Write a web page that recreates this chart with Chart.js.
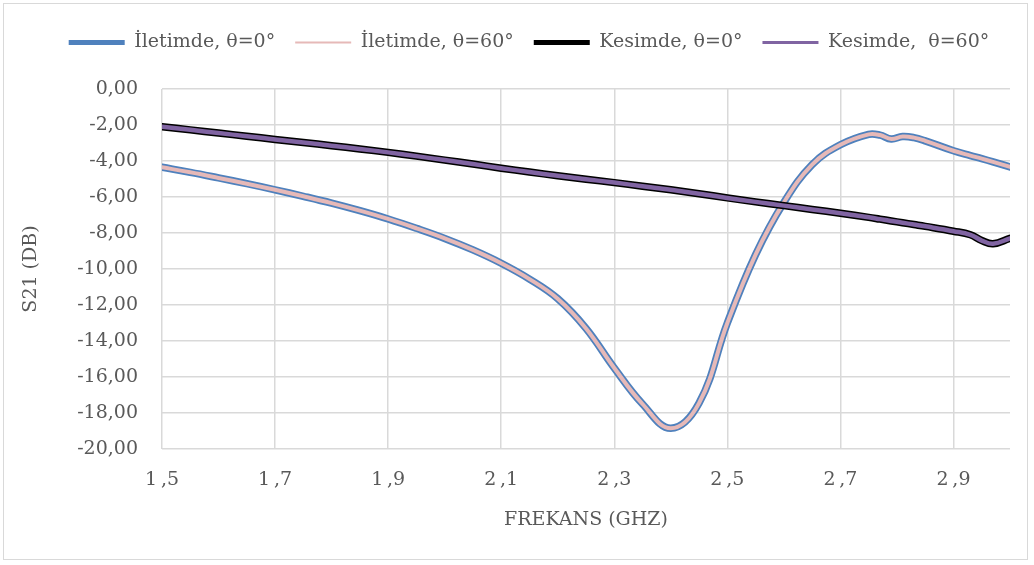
<!DOCTYPE html>
<html>
<head>
<meta charset="utf-8">
<script src="https://cdn.jsdelivr.net/npm/chart.js@4"></script>
<style>
  html, body { margin: 0; padding: 0; background: #fff; }
  #frame {
    position: absolute; left: 3px; top: 3px;
    width: 1025px; height: 557px;
    box-sizing: border-box; border: 1px solid #d9d9d9;
  }
  canvas { display: block; }
</style>
</head>
<body>
<div id="frame"><canvas id="s21Chart" width="1023" height="555"></canvas></div>
<script>
// frequency points (GHz)
const frequencies = [1.5, 1.55, 1.6, 1.65, 1.7, 1.75, 1.8, 1.85, 1.9, 1.95, 2.0, 2.05, 2.1, 2.15, 2.2,
    2.25, 2.3, 2.35, 2.4, 2.45, 2.5, 2.55, 2.6, 2.65, 2.7, 2.75, 2.77, 2.79, 2.81, 2.83, 2.85, 2.9,
    2.93, 2.95, 2.97, 3.0];

// S21 (dB) - transmission state
const iletimde0 = [-4.35, -4.63, -4.94, -5.26, -5.6, -5.96, -6.34, -6.76, -7.22, -7.74, -8.3, -8.94, -9.68,
    -10.56, -11.65, -13.3, -15.5, -17.5, -18.85, -17.45, -13.0, -9.2, -6.3, -4.2, -3.1, -2.52, -2.56,
    -2.78, -2.64, -2.7, -2.88, -3.43, -3.7, -3.87, -4.05, -4.33];
const iletimde60 = iletimde0.slice();

// S21 (dB) - cut-off state
const kesimde0 = [-2.1, -2.27, -2.45, -2.62, -2.8, -2.97, -3.15, -3.33, -3.52, -3.73, -3.95, -4.17, -4.4,
    -4.61, -4.82, -5.01, -5.2, -5.4, -5.6, -5.82, -6.05, -6.27, -6.48, -6.69, -6.9, -7.13, -7.23,
    -7.33, -7.43, -7.53, -7.63, -7.9, -8.1, -8.42, -8.6, -8.3];
const kesimde60 = kesimde0.slice();

const seriesNames = ['İletimde, θ=0°', 'İletimde, θ=60°', 'Kesimde, θ=0°', 'Kesimde,  θ=60°'];
const xTicks = [1.5, 1.7, 1.9, 2.1, 2.3, 2.5, 2.7, 2.9];
const yTicks = [0, -2, -4, -6, -8, -10, -12, -14, -16, -18, -20];

const FONT = 'DejaVu Serif';
const GREY = '#595959';

function points(ys) {
    return frequencies.map((f, i) => ({ x: f, y: ys[i] }));
}

// legend samples are thinner than the plotted strokes
const legendWidths = [5, 2, 5, 3];

// extra room under the legend, and nudge the legend row to the right
const legendSpace = {
    id: 'legendSpace',
    beforeInit(chart) {
        const fit = chart.legend.fit;
        chart.legend.fit = function () {
            fit.bind(chart.legend)();
            this.height += 27;
        };
    },
    afterLayout(chart) {
        chart.legend.left += 44;
    }
};

const ctx = document.getElementById('s21Chart').getContext('2d');

new Chart(ctx, {
    type: 'line',
    data: {
        datasets: [
            { label: seriesNames[0], data: points(iletimde0), borderColor: '#4f81bd', borderWidth: 7.5, order: 3 },
            { label: seriesNames[1], data: points(iletimde60), borderColor: '#e6b9b8', borderWidth: 4, order: 2 },
            { label: seriesNames[2], data: points(kesimde0), borderColor: '#000000', borderWidth: 7.5, order: 1 },
            { label: seriesNames[3], data: points(kesimde60), borderColor: '#8064a2', borderWidth: 4.5, order: 0 }
        ]
    },
    options: {
        responsive: false,
        animation: false,
        layout: { padding: { top: 9, right: 17, bottom: 0, left: 0 } },
        elements: {
            point: { radius: 0 },
            line: { tension: 0.4, borderCapStyle: 'round', borderJoinStyle: 'round' }
        },
        plugins: {
            legend: {
                position: 'top',
                labels: {
                    usePointStyle: true,
                    pointStyle: 'line',
                    pointStyleWidth: 56,
                    padding: 20,
                    color: GREY,
                    font: { family: FONT, size: 19 },
                    sort: (a, b) => a.datasetIndex - b.datasetIndex,
                    generateLabels(chart) {
                        const items = Chart.defaults.plugins.legend.labels.generateLabels(chart);
                        items.forEach(it => { it.lineWidth = legendWidths[it.datasetIndex]; });
                        return items;
                    }
                }
            },
            tooltip: { enabled: false }
        },
        scales: {
            x: {
                type: 'linear',
                min: 1.5,
                max: 3.0,
                afterBuildTicks(scale) {
                    scale.ticks = xTicks.map(v => ({ value: v }));
                },
                afterFit(scale) { scale.height = 110; },
                grid: { color: '#d9d9d9', lineWidth: 1.5, drawTicks: false },
                border: { display: false },
                ticks: {
                    color: GREY,
                    font: { family: FONT, size: 19 },
                    padding: 20,
                    maxRotation: 0,
                    autoSkip: false,
                    callback: v => v.toFixed(1).replace('.', '\u2009,')
                },
                title: {
                    display: true,
                    text: 'FREKANS (GHZ)',
                    color: GREY,
                    font: { family: FONT, size: 19 },
                    padding: { top: 4, bottom: 28 }
                }
            },
            y: {
                min: -20,
                max: 0,
                afterBuildTicks(scale) {
                    scale.ticks = yTicks.map(v => ({ value: v }));
                },
                afterFit(scale) { scale.width = 158; },
                grid: { color: '#d9d9d9', lineWidth: 1.5, drawTicks: false },
                border: { display: false },
                ticks: {
                    color: GREY,
                    font: { family: FONT, size: 19 },
                    padding: 24,
                    callback: v => v.toFixed(2).replace('.', ',')
                },
                title: {
                    display: true,
                    text: 'S21 (DB)',
                    color: GREY,
                    font: { family: FONT, size: 19 },
                    padding: { top: 16, bottom: 0 }
                }
            }
        }
    },
    plugins: [legendSpace]
});
</script>
</body>
</html>
